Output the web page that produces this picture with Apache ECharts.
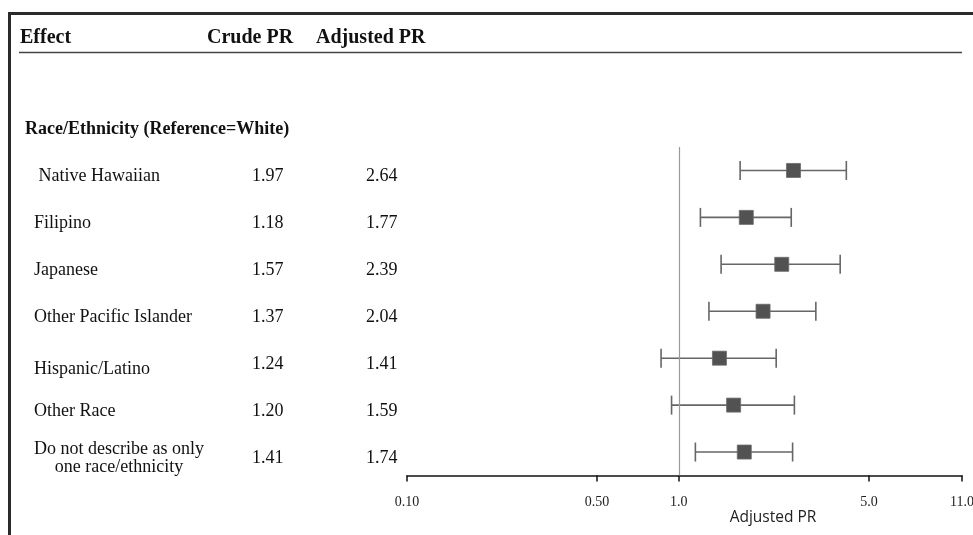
<!DOCTYPE html>
<html>
<head>
<meta charset="utf-8">
<script src="https://cdn.jsdelivr.net/npm/echarts@6/dist/echarts.min.js"></script>
<style>html,body{margin:0;padding:0;background:#fff}#chart{width:973px;height:535px}</style>
</head>
<body>
<div id="chart"></div>
<script>
// ---- data ----
var categories = [' Native Hawaiian', 'Filipino', 'Japanese', 'Other Pacific Islander', 'Hispanic/Latino', 'Other Race', 'Do not describe as only\none race/ethnicity'];
var crudePR    = [1.97, 1.18, 1.57, 1.37, 1.24, 1.20, 1.41];
var adjustedPR = [2.64, 1.77, 2.39, 2.04, 1.41, 1.59, 1.74];
var lowerCI    = [1.68, 1.20, 1.43, 1.29, 0.86, 0.94, 1.15];
var upperCI    = [4.13, 2.59, 3.92, 3.19, 2.28, 2.66, 2.62];
var tickValues = [0.1, 0.5, 1, 5, 11];
var tickLabels = ['0.10', '0.50', '1.0', '5.0', '11.0'];
var referenceValue = 1;

var serif = 'Liberation Serif';
var chart = echarts.init(document.getElementById('chart'));

var barData = categories.map(function (c, i) { return [lowerCI[i], upperCI[i], i]; });
var pointData = categories.map(function (c, i) { return [adjustedPR[i], i]; });
var tickLogs = tickValues.map(function (v) { return Math.log10(v); });

function yAxisBase(margin, formatter, rich) {
  return {
    type: 'category', data: categories, inverse: true, gridIndex: 0, position: 'left',
    axisLine: { show: false }, axisTick: { show: false }, splitLine: { show: false },
    axisLabel: {
      margin: margin, align: 'left', padding: [12, 0, 0, 0], interval: 0,
      fontFamily: serif, fontSize: 18, color: '#111', lineHeight: 18,
      formatter: formatter, rich: rich || {}
    }
  };
}

var headStyle = { fontFamily: serif, fontSize: 20, fontWeight: 'bold', color: '#111' };
var labelRich = {
  c: { width: 170, align: 'center', fontFamily: serif, fontSize: 18, lineHeight: 18, color: '#111' },
  h: { fontFamily: serif, fontSize: 18, lineHeight: 18, color: '#111', padding: [10, 0, 0, 0] }
};

var option = {
  animation: false,
  backgroundColor: '#fff',
  title: [
    { text: 'Effect', left: 20, top: 28, padding: 0, textStyle: headStyle },
    { text: 'Crude PR', left: 207, top: 28, padding: 0, textStyle: headStyle },
    { text: 'Adjusted PR', left: 316, top: 28, padding: 0, textStyle: headStyle },
    { text: 'Race/Ethnicity (Reference=White)', left: 25, top: 120, padding: 0, textStyle: { fontFamily: serif, fontSize: 18, fontWeight: 'bold', color: '#111' } }
  ],
  graphic: [
    { type: 'line', shape: { x1: 8, y1: 13.5, x2: 973, y2: 13.5 }, style: { stroke: '#2a2a2a', lineWidth: 3 } },
    { type: 'line', shape: { x1: 9.5, y1: 12, x2: 9.5, y2: 535 }, style: { stroke: '#2a2a2a', lineWidth: 3 } },
    { type: 'line', shape: { x1: 19, y1: 52.5, x2: 962, y2: 52.5 }, style: { stroke: '#444', lineWidth: 1.5 } }
  ],
  grid: { left: 407, right: 11, top: 147, bottom: 59.5, containLabel: false, outerBoundsMode: 'none' },
  xAxis: [
    {
      type: 'log', logBase: 10, min: 0.1, max: 11, gridIndex: 0, position: 'bottom',
      axisLine: { show: false }, axisTick: { show: false }, axisLabel: { show: false }, splitLine: { show: false }
    },
    {
      type: 'value', min: -1, max: Math.log10(11), gridIndex: 0, position: 'bottom',
      axisLine: { show: true, onZero: false, lineStyle: { color: '#111', width: 1.5 } },
      axisTick: { show: true, length: 6, customValues: tickLogs, lineStyle: { color: '#111', width: 1.5 } },
      splitLine: { show: false },
      axisLabel: {
        customValues: tickLogs, margin: 20, fontFamily: serif, fontSize: 14, color: '#222',
        formatter: function (v) {
          var best = 0;
          for (var i = 0; i < tickLogs.length; i++) { if (Math.abs(tickLogs[i] - v) < Math.abs(tickLogs[best] - v)) best = i; }
          return tickLabels[best];
        }
      },
      name: 'Adjusted PR', nameLocation: 'middle', nameGap: 34, nameMoveOverlap: false,
      nameTextStyle: { fontFamily: 'Open Sans', fontSize: 15.5, color: '#222', padding: [0, 0, 0, 177] }
    }
  ],
  yAxis: [
    yAxisBase(373, function (v, i) {
      if (i === 6) return '{c|' + v + '}';
      if (i === 4) return '{h|' + v + '}';
      return v;
    }, labelRich),
    yAxisBase(155, function (v, i) { return crudePR[i].toFixed(2); }),
    yAxisBase(41, function (v, i) { return adjustedPR[i].toFixed(2); })
  ],
  series: [
    {
      type: 'custom', xAxisIndex: 0, yAxisIndex: 0, silent: true, z: 2,
      encode: { x: [0, 1], y: 2 },
      data: barData,
      renderItem: function (params, api) {
        var idx = api.value(2);
        var lo = api.coord([api.value(0), idx]);
        var hi = api.coord([api.value(1), idx]);
        var h = 9.5;
        var st = { stroke: '#666', lineWidth: 1.6 };
        return {
          type: 'group', children: [
            { type: 'line', shape: { x1: lo[0], y1: lo[1], x2: hi[0], y2: hi[1] }, style: st },
            { type: 'line', shape: { x1: lo[0], y1: lo[1] - h, x2: lo[0], y2: lo[1] + h }, style: st },
            { type: 'line', shape: { x1: hi[0], y1: hi[1] - h, x2: hi[0], y2: hi[1] + h }, style: st }
          ]
        };
      }
    },
    {
      type: 'scatter', xAxisIndex: 0, yAxisIndex: 0, z: 3, silent: true,
      symbol: 'rect', symbolSize: 14,
      itemStyle: { color: '#525252', borderColor: '#6a6a6a', borderWidth: 0.8, opacity: 1 },
      data: pointData,
      markLine: {
        silent: true, symbol: 'none', animation: false,
        label: { show: false },
        lineStyle: { color: '#9a9a9a', width: 1.2, type: 'solid' },
        data: [{ xAxis: referenceValue }]
      }
    },
    {
      type: 'scatter', xAxisIndex: 0, yAxisIndex: 1, silent: true, symbolSize: 0, data: []
    },
    {
      type: 'scatter', xAxisIndex: 0, yAxisIndex: 2, silent: true, symbolSize: 0, data: []
    }
  ]
};
chart.setOption(option);
</script>
</body>
</html>
